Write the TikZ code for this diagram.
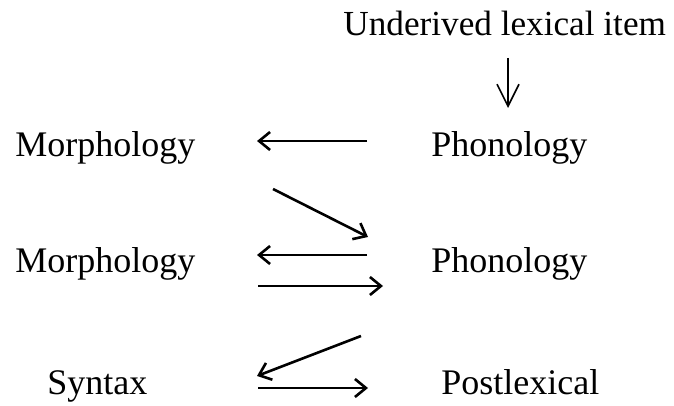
\documentclass[tikz,border=0pt]{standalone}
\usepackage{fontspec}
\setmainfont{Liberation Serif}
\usetikzlibrary{arrows.meta}

\tikzset{
  word/.style={anchor=base west, inner sep=0pt, font=\fontsize{18}{20}\selectfont},
  link/.style={-{Straight Barb[length=5.5pt,width=9pt]}, line width=1.3pt},
  entry/.style={-{Straight Barb[length=11pt,width=11pt]}, line width=0.8pt}
}

\begin{document}
\begin{tikzpicture}[x=0.5pt,y=-0.5pt]
    \useasboundingbox (0,0) rectangle (674,406);

    % levels
    \node[word, font=\fontsize{17.6}{20}\selectfont] (item) at (343,36) {Underived lexical item};
    \node[word] (morphA) at (15,157)  {Morphology};
    \node[word] (phonA)  at (431,157) {Phonology};
    \node[word] (morphB) at (15,272)  {Morphology};
    \node[word] (phonB)  at (431,272) {Phonology};
    \node[word] (syntax) at (47,394)  {Syntax};
    \node[word] (postlx) at (441,394) {Postlexical};

    % arrow ends
    \coordinate (inTop)  at (508,58);
    \coordinate (inBot)  at (508,108);
    \coordinate (aR)     at (367,141);
    \coordinate (aL)     at (257,141);
    \coordinate (dTop)   at (273,189);
    \coordinate (dBot)   at (368,237);
    \coordinate (bR)     at (367,255);
    \coordinate (bL)     at (257,255);
    \coordinate (cL)     at (258,286);
    \coordinate (cR)     at (383,286);
    \coordinate (eTop)   at (361,336);
    \coordinate (eBot)   at (257,376);
    \coordinate (fL)     at (258,388);
    \coordinate (fR)     at (368,388);

    \draw[entry] (inTop) -- (inBot);
    \draw[link] (aR) -- (aL);
    \draw[link] (dTop) -- (dBot);
    \draw[link] (bR) -- (bL);
    \draw[link] (cL) -- (cR);
    \draw[link] (eTop) -- (eBot);
    \draw[link] (fL) -- (fR);
\end{tikzpicture}
\end{document}
